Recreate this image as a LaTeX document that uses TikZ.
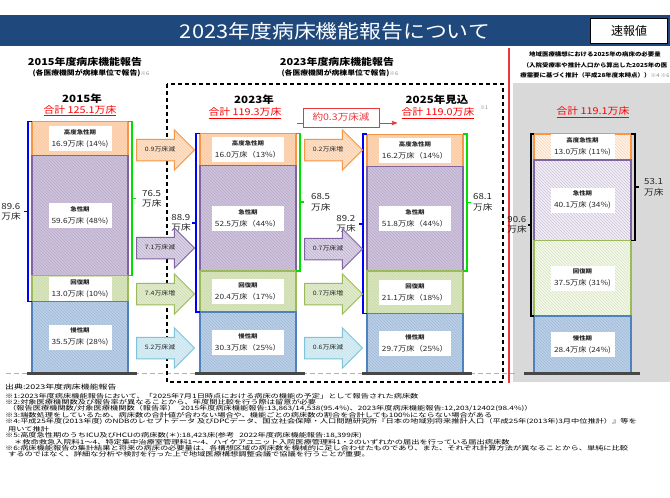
\documentclass[tikz,border=0pt]{standalone}
\usepackage{fontspec}
\setmainfont{Noto Sans CJK JP}
\newfontfamily\jpw[FakeStretch=1.15]{Noto Sans CJK JP}
\newfontfamily\jpn[FakeStretch=1.37]{Noto Sans CJK JP}
\usepackage{tikz}
\usetikzlibrary{arrows,positioning,patterns,shapes.arrows}

\definecolor{navy}{HTML}{1F497D}
\definecolor{ora}{HTML}{F79646}
\definecolor{pur}{HTML}{8064A2}
\definecolor{grn}{HTML}{9BBB59}
\definecolor{blu}{HTML}{4F81BD}
\definecolor{arrcya}{HTML}{7DC3DA}
\definecolor{panel}{HTML}{D9D9D9}
\definecolor{txt}{HTML}{262626}
\definecolor{redline}{HTML}{E8383D}
\definecolor{brblue}{HTML}{0000FF}
\definecolor{brgreen}{HTML}{00E000}
\definecolor{kome}{HTML}{808080}

\newcommand{\bedname}[1]{{\fontsize{5.6}{7}\selectfont\bfseries #1}}
\newcommand{\komesm}[1]{{\color{kome}\fontsize{5}{6}\selectfont\mdseries #1}}

\begin{document}
\begin{tikzpicture}[x=1pt,y=-1pt,
    seg/.style={rectangle, draw=#1, line width=1.3pt, outer sep=0pt, inner sep=0pt,
      minimum width=96pt, preaction={fill=#1!38}, pattern=north west lines, pattern color=#1!55},
    pseg/.style={rectangle, draw=#1, line width=1.3pt, outer sep=0pt, inner sep=0pt,
      minimum width=97pt, preaction={fill=#1!10}, pattern=north west lines, pattern color=#1!40},
    lbl/.style={fill=white, inner sep=3pt, minimum width=64pt, minimum height=25pt, align=center,
      text=txt, font=\jpw\fontsize{7.2}{12}\selectfont},
    arr/.style={single arrow, draw=#1, line width=1pt, preaction={fill=#1!28},
      pattern=north west lines, pattern color=#1!50, single arrow head extend=9.5pt,
      minimum height=58pt, inner xsep=2pt, inner ysep=7pt, text height=5pt, text depth=1.5pt,
      text=txt, font=\jpw\fontsize{6}{7}\selectfont, anchor=tail},
    bbr/.style={draw=brblue, line width=1.5pt},
    gbr/.style={draw=brgreen, line width=1.5pt},
    kbr/.style={draw=black, line width=1.5pt},
    brlbl/.style={align=left, inner sep=0pt, text=txt, font=\jpw\fontsize{8.4}{10.5}\selectfont},
    base/.style={draw=black!72, line width=2.7pt},
    yr/.style={text=black, font=\jpw\bfseries\fontsize{10}{11}\selectfont},
    tot/.style={text=red, font=\jpw\fontsize{9.4}{11}\selectfont},
    fnote/.style={align=left, inner sep=0pt, text=black, font=\jpn\fontsize{6}{6.15}\selectfont}]
  \tikzstyle{every node}=[inner sep=1pt]

  \useasboundingbox (0,0) rectangle (670,498);
  \fill[white] (0,0) rectangle (670,498);
  \fill[navy] (0,15) rectangle (670,46);
  \fill[panel] (513,83) rectangle (670,382);
  \draw[redline, line width=1.6pt] (509,48) -- (509,383);
  \draw[black!30, line width=1pt, dash pattern=on 5pt off 3pt] (6,373) -- (515,373);
  \draw[black, line width=1.4pt, dash pattern=on 4pt off 3pt] (167,84) rectangle (503,382);

  \node[text=white, font=\jpw\fontsize{19}{20}\selectfont] (ttl) at (335,31) {2023年度病床機能報告について};
  \node[draw, fill=white, line width=0.8pt, minimum width=77pt, minimum height=25pt,
        font=\fontsize{12}{12}\selectfont] (sok) at (629,30.5) {速報値};

  \node[font=\jpw\bfseries\fontsize{9.5}{10}\selectfont] (hd15) at (85,62) {2015年度病床機能報告};
  \node[font=\jpw\bfseries\fontsize{6.8}{8}\selectfont] (sb15) at (91,73) {(各医療機関が病棟単位で報告)\komesm{※6}};
  \node[font=\jpw\bfseries\fontsize{9.5}{10}\selectfont] (hd23) at (337,62) {2023年度病床機能報告};
  \node[font=\jpw\bfseries\fontsize{6.8}{8}\selectfont] (sb23) at (340,73) {(各医療機関が病棟単位で報告)\komesm{※6}};
  \node[align=center, font=\jpw\bfseries\fontsize{5.6}{10.8}\selectfont] (hdr) at (595,65)
    {地域医療構想における2025年の病床の必要量\\（入院受療率や推計人口から算出した2025年の医\\療需要に基づく推計（平成28年度末時点））\komesm{※4 ※6}};

  \node[yr] (y15) at (82,99) {2015年};
  \node[tot] (s15) at (80,110.5) {\underline{合計 125.1万床}};
  \node[yr] (y23) at (254,100) {2023年};
  \node[tot] (s23) at (245,113) {\underline{合計 119.3万床}};
  \node[yr] (y25) at (437,100) {2025年見込};
  \node[tot] (s25) at (438,113) {\underline{合計 119.0万床}};
  \node[text=kome, font=\fontsize{5}{6}\selectfont] (k25) at (484,108) {※1};
  \node[tot] (srq) at (593,112) {\underline{合計 119.1万床}};

  \coordinate (rs) at (297,123);
  \coordinate (re) at (397,123);
  \draw[redline, line width=0.9pt, ->, >=stealth'] (rs) -- (re);
  \node[draw=redline, fill=white, line width=0.9pt, text=redline, minimum width=76pt, minimum height=19pt,
        font=\jpw\fontsize{9.2}{10}\selectfont] (gen) at (341,117.5) {約0.3万床減};

  \node[seg=ora, minimum height=34pt] (h15) at (80,138.7) {};
  \node[seg=pur, minimum height=119.8pt] (a15) at (80,215.6) {};
  \node[seg=grn, minimum height=26.1pt] (r15) at (80,288.6) {};
  \node[seg=blu, minimum height=71.4pt] (c15) at (80,337.3) {};
  \node[seg=ora, minimum height=32.2pt] (h23) at (248,149.5) {};
  \node[seg=pur, minimum height=105.5pt] (a23) at (248,218.3) {};
  \node[seg=grn, minimum height=41pt] (r23) at (248,291.6) {};
  \node[seg=blu, minimum height=60.9pt] (c23) at (248,342.55) {};
  \node[seg=ora, minimum height=32.6pt] (h25) at (415,150.5) {};
  \node[seg=pur, minimum height=104.1pt] (a25) at (415,218.8) {};
  \node[seg=grn, minimum height=42.4pt] (r25) at (415,292.1) {};
  \node[seg=blu, minimum height=59.7pt] (c25) at (415,343.15) {};
  \node[pseg=ora, minimum height=26.1pt] (hrq) at (582.5,146.9) {};
  \node[pseg=pur, minimum height=80.6pt] (arq) at (582.5,200.2) {};
  \node[pseg=grn, minimum height=75.4pt] (rrq) at (582.5,278.2) {};
  \node[seg=blu, minimum width=97pt, minimum height=57.1pt] (crq) at (582.5,344.5) {};

  \draw[base] ([xshift=-5pt,yshift=-0.7pt]c15.south west) -- ([xshift=9pt,yshift=-0.7pt]c15.south east);
  \draw[base] ([xshift=-5pt,yshift=-0.7pt]c23.south west) -- ([xshift=9pt,yshift=-0.7pt]c23.south east);
  \draw[base] ([xshift=-5pt,yshift=-0.7pt]c25.south west) -- ([xshift=9pt,yshift=-0.7pt]c25.south east);
  \draw[base] ([xshift=-10pt,yshift=-0.7pt]crq.south west) -- ([xshift=9pt,yshift=-0.7pt]crq.south east);

  \node[lbl, minimum width=63pt] (lh15) at (h15) {\bedname{高度急性期}\\16.9万床 (14\%)};
  \node[lbl, minimum width=63pt] (la15) at (a15) {\bedname{急性期}\\59.6万床 (48\%)};
  \node[lbl, minimum width=63pt, minimum height=24pt] (lr15) at (r15) {\bedname{回復期}\\13.0万床 (10\%)};
  \node[lbl, minimum width=63pt] (lc15) at (c15) {\bedname{慢性期}\\35.5万床 (28\%)};
  \node[lbl, minimum width=68pt] (lh23) at (h23) {\bedname{高度急性期}\\16.0万床（13\%）};
  \node[lbl, minimum width=68pt] (la23) at (a23) {\bedname{急性期}\\52.5万床（44\%）};
  \node[lbl, minimum width=68pt] (lr23) at (r23) {\bedname{回復期}\\20.4万床（17\%）};
  \node[lbl, minimum width=68pt] (lc23) at (c23) {\bedname{慢性期}\\30.3万床（25\%）};
  \node[lbl, minimum width=68pt] (lh25) at (h25) {\bedname{高度急性期}\\16.2万床（14\%）};
  \node[lbl, minimum width=68pt] (la25) at (a25) {\bedname{急性期}\\51.8万床（44\%）};
  \node[lbl, minimum width=68pt] (lr25) at (r25) {\bedname{回復期}\\21.1万床（18\%）};
  \node[lbl, minimum width=68pt] (lc25) at (c25) {\bedname{慢性期}\\29.7万床（25\%）};
  \node[lbl] (lhrq) at (hrq) {\bedname{高度急性期}\\13.0万床 (11\%)};
  \node[lbl] (larq) at (arq) {\bedname{急性期}\\40.1万床 (34\%)};
  \node[lbl] (lrrq) at (rrq) {\bedname{回復期}\\37.5万床 (31\%)};
  \node[lbl] (lcrq) at (crq) {\bedname{慢性期}\\28.4万床 (24\%)};

  \draw[bbr] (h15.north west) -- ++(-4,0) -- coordinate[midway] (m15l) ([xshift=-4pt]r15.south west) -- (r15.south west);
  \draw[bbr] (m15l) -- ++(-4,0) coordinate (t15l);
  \node[brlbl, left=3pt of t15l] (n15l) {89.6\\万床};
  \draw[gbr] (h15.north east) -- ++(4,0) -- coordinate[midway] (m15r) ([xshift=4pt]a15.south east) -- (a15.south east);
  \draw[gbr] (m15r) -- ++(4,0) coordinate (t15r);
  \node[brlbl, right=6pt of t15r] (n15r) {76.5\\万床};
  \draw[bbr] (h23.north west) -- ++(-4,0) -- coordinate[midway] (m23l) ([xshift=-4pt]r23.south west) -- (r23.south west);
  \draw[bbr] (m23l) -- ++(-4,0) coordinate (t23l);
  \node[brlbl, left=1pt of t23l] (n23l) {88.9\\万床};
  \draw[gbr] (h23.north east) -- ++(4,0) -- coordinate[midway] (m23r) ([xshift=4pt]a23.south east) -- (a23.south east);
  \draw[gbr] (m23r) -- ++(4,0) coordinate (t23r);
  \node[brlbl, right=7pt of t23r] (n23r) {68.5\\万床};
  \draw[bbr] (h25.north west) -- ++(-4,0) -- coordinate[midway] (m25l) ([xshift=-4pt]r25.south west) -- (r25.south west);
  \draw[bbr] (m25l) -- ++(-4,0) coordinate (t25l);
  \node[brlbl, left=3pt of t25l] (n25l) {89.2\\万床};
  \draw[gbr] (h25.north east) -- ++(4,0) -- coordinate[midway] (m25r) ([xshift=4pt]a25.south east) -- (a25.south east);
  \draw[gbr] (m25r) -- ++(4,0) coordinate (t25r);
  \node[brlbl, right=2pt of t25r] (n25r) {68.1\\万床};
  \draw[kbr] (hrq.north west) -- ++(-3,0) -- coordinate[midway] (mrql) ([xshift=-3pt]rrq.south west) -- (rrq.south west);
  \draw[kbr] (mrql) -- ++(-3,0) coordinate (trql);
  \node[brlbl, left=1pt of trql] (nrql) {90.6\\万床};
  \draw[kbr] (hrq.north east) -- ++(4,0) -- coordinate[midway] (mrqr) ([xshift=4pt]arq.south east) -- (arq.south east);
  \draw[kbr] (mrqr) -- ++(4,0) coordinate (trqr);
  \node[brlbl, right=5pt of trqr] (nrqr) {53.1\\万床};

  \node[arr=ora] (dh1) at (136,150) {0.9万床減};
  \node[arr=pur] (da1) at (136,248) {7.1万床減};
  \node[arr=grn] (dr1) at (136,294) {7.4万床増};
  \node[arr=arrcya] (dc1) at (136,348) {5.2万床減};
  \node[arr=ora] (dh2) at (304,150) {0.2万床増};
  \node[arr=pur] (da2) at (304,249) {0.7万床減};
  \node[arr=grn] (dr2) at (304,294) {0.7万床増};
  \node[arr=arrcya] (dc2) at (304,348) {0.6万床減};

  \node[fnote, anchor=west, font=\jpn\fontsize{6.5}{7}\selectfont] (src) at (5,387) {出典:2023年度病床機能報告};
  \node[fnote, anchor=north west] (fn) at (5,393) {\lineskiplimit=-5pt
    ※1:2023年度病床機能報告において、「2025年7月1日時点における病床の機能の予定」として報告された病床数\\
    ※2:対象医療機関数及び報告率が異なることから、年度間比較を行う際は留意が必要\\
    \hspace*{3pt}（報告医療機関数/対象医療機関数（報告率）\hspace{5pt}2015年度病床機能報告:13,863/14,538(95.4\%)、2023年度病床機能報告:12,203/12402(98.4\%)）\\
    ※3:端数処理をしているため、病床数の合計値が合わない場合や、機能ごとの病床数の割合を合計しても100\%にならない場合がある\\
    ※4:平成25年度(2013年度) のNDBのレセプトデータ 及びDPCデータ、国立社会保障・人口問題研究所『日本の地域別将来推計人口（平成25年(2013年)3月中位推計）』等を\\
    \hspace*{3pt}用いて推計\\
    ※5:高度急性期のうちICU及びHCUの病床数(＊):18,423床(参考\hspace{5pt}2022年度病床機能報告:18,399床)\\
    \hspace*{9pt}＊救命救急入院料1～4、特定集中治療室管理料1～4、ハイケアユニット入院医療管理料1・2のいずれかの届出を行っている届出病床数\\
    ※6:病床機能報告の集計結果と将来の病床の必要量は、各構想区域の病床数を機械的に足し合わせたものであり、また、それぞれ計算方法が異なることから、単純に比較\\
    \hspace*{3pt}するのではなく、詳細な分析や検討を行った上で地域医療構想調整会議で協議を行うことが重要。};
\end{tikzpicture}
\end{document}
